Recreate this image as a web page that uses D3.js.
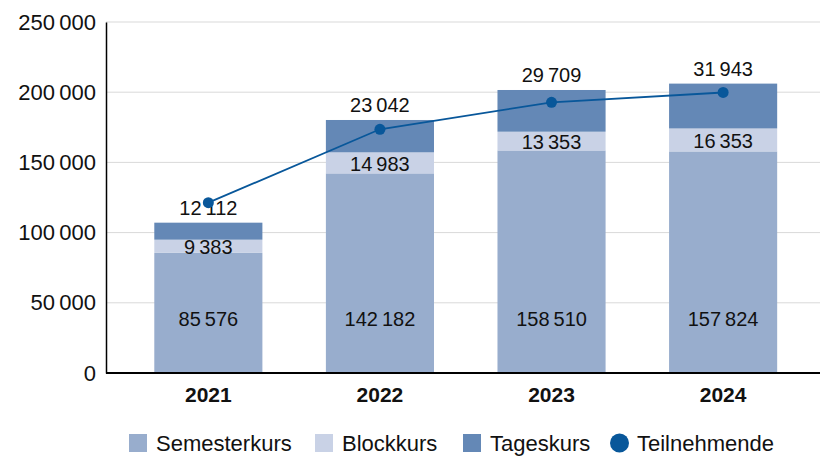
<!DOCTYPE html>
<html>
<head>
<meta charset="utf-8">
<script src="https://cdn.jsdelivr.net/npm/d3@7"></script>
<style>
    body { margin: 0; background: #fff; }
    svg { display: block; font-family: "Liberation Sans", Arial, sans-serif; }
</style>
</head>
<body>
<div id="chart"></div>
<script>
const years = ['2021', '2022', '2023', '2024'];
const semesterkurs = [85576, 142182, 158510, 157824];
const blockkurs = [9383, 14983, 13353, 16353];
const tageskurs = [12112, 23042, 29709, 31943];
const teilnehmende = [121300, 173600, 192800, 199800];
const yTicks = [0, 50000, 100000, 150000, 200000, 250000];

const seriesNames = ['Semesterkurs', 'Blockkurs', 'Tageskurs'];
const colors = {
    Semesterkurs: '#98adcd',
    Blockkurs: '#c9d2e6',
    Tageskurs: '#6488b6',
    Teilnehmende: '#08579a'
};

const width = 820;
const height = 457;
const margin = { top: 22, right: 0, bottom: 84, left: 106 };

// thin space as thousands separator
const fmt = v => d3.format(',')(v).replace(/,/g, '\u2009');

const svg = d3.select('#chart').append('svg')
    .attr('width', width)
    .attr('height', height);

const x = d3.scaleBand()
    .domain(years)
    .range([margin.left, width - margin.right])
    .paddingInner(0.37)
    .paddingOuter(0.2655)
    .align(0.53);

const y = d3.scaleLinear()
    .domain([0, 250000])
    .range([height - margin.bottom, margin.top]);

const rows = years.map((year, i) => ({
    year,
    Semesterkurs: semesterkurs[i],
    Blockkurs: blockkurs[i],
    Tageskurs: tageskurs[i]
}));
const stacked = d3.stack().keys(seriesNames)(rows);

// grid
svg.append('g')
    .selectAll('line')
    .data(yTicks.slice(1))
    .enter().append('line')
    .attr('x1', margin.left)
    .attr('x2', width - margin.right)
    .attr('y1', d => y(d))
    .attr('y2', d => y(d))
    .attr('stroke', '#d9d9d9')
    .attr('stroke-width', 1);

// bars
svg.append('g')
    .selectAll('g')
    .data(stacked)
    .enter().append('g')
    .attr('fill', d => colors[d.key])
    .selectAll('rect')
    .data(d => d)
    .enter().append('rect')
    .attr('x', d => x(d.data.year))
    .attr('y', d => y(d[1]))
    .attr('width', x.bandwidth())
    .attr('height', d => y(d[0]) - y(d[1]));

// y axis
const yAxis = svg.append('g')
    .attr('transform', `translate(${margin.left},0)`)
    .call(d3.axisLeft(y).tickValues(yTicks).tickSize(0).tickPadding(10).tickFormat(fmt));
yAxis.select('.domain').attr('stroke', '#000').attr('stroke-width', 1.5);
yAxis.selectAll('text')
    .attr('font-size', 22)
    .attr('fill', '#111')
    .style('font-family', '"Liberation Sans", Arial, sans-serif');

// x axis
const xAxis = svg.append('g')
    .attr('transform', `translate(0,${y(0)})`)
    .call(d3.axisBottom(x).tickSize(0).tickPadding(14));
xAxis.select('.domain')
    .attr('d', `M${margin.left},0H${width}`)
    .attr('stroke', '#000')
    .attr('stroke-width', 2);
xAxis.selectAll('text')
    .attr('font-size', 21)
    .attr('font-weight', 'bold')
    .attr('fill', '#111')
    .style('font-family', '"Liberation Sans", Arial, sans-serif');

// value labels
const labels = svg.append('g')
    .attr('font-size', 20)
    .attr('fill', '#111')
    .attr('text-anchor', 'middle')
    .attr('dominant-baseline', 'central');

labels.selectAll('.lab-sem')
    .data(rows)
    .enter().append('text')
    .attr('x', d => x(d.year) + x.bandwidth() / 2)
    .attr('y', y(0) - 54)
    .text(d => fmt(d.Semesterkurs));

labels.selectAll('.lab-block')
    .data(stacked[1])
    .enter().append('text')
    .attr('x', d => x(d.data.year) + x.bandwidth() / 2)
    .attr('y', d => (y(d[0]) + y(d[1])) / 2 + 1)
    .text(d => fmt(d.data.Blockkurs));

labels.selectAll('.lab-tages')
    .data(stacked[2])
    .enter().append('text')
    .attr('x', d => x(d.data.year) + x.bandwidth() / 2)
    .attr('y', d => y(d[1]) - 15)
    .text(d => fmt(d.data.Tageskurs));

// Teilnehmende line
const line = d3.line()
    .x((d, i) => x(years[i]) + x.bandwidth() / 2)
    .y(d => y(d));

svg.append('path')
    .datum(teilnehmende)
    .attr('fill', 'none')
    .attr('stroke', colors.Teilnehmende)
    .attr('stroke-width', 1.8)
    .attr('d', line);

svg.append('g')
    .selectAll('circle')
    .data(teilnehmende)
    .enter().append('circle')
    .attr('cx', (d, i) => x(years[i]) + x.bandwidth() / 2)
    .attr('cy', d => y(d))
    .attr('r', 5.5)
    .attr('fill', colors.Teilnehmende);

// legend
const legendItems = [
    { name: 'Semesterkurs', x: 129, shape: 'rect' },
    { name: 'Blockkurs', x: 315, shape: 'rect' },
    { name: 'Tageskurs', x: 463, shape: 'rect' },
    { name: 'Teilnehmende', x: 610, shape: 'circle' }
];
const legendY = 443;

const legend = svg.append('g')
    .selectAll('g')
    .data(legendItems)
    .enter().append('g')
    .attr('transform', d => `translate(${d.x},${legendY})`);

legend.filter(d => d.shape === 'rect').append('rect')
    .attr('x', 0)
    .attr('y', -9)
    .attr('width', 18)
    .attr('height', 18)
    .attr('fill', d => colors[d.name]);

legend.filter(d => d.shape === 'circle').append('circle')
    .attr('cx', 9.5)
    .attr('cy', 0)
    .attr('r', 9.5)
    .attr('fill', d => colors[d.name]);

legend.append('text')
    .attr('x', 27)
    .attr('y', 0)
    .attr('dominant-baseline', 'central')
    .attr('font-size', 22)
    .attr('fill', '#111')
    .text(d => d.name);
</script>
</body>
</html>
